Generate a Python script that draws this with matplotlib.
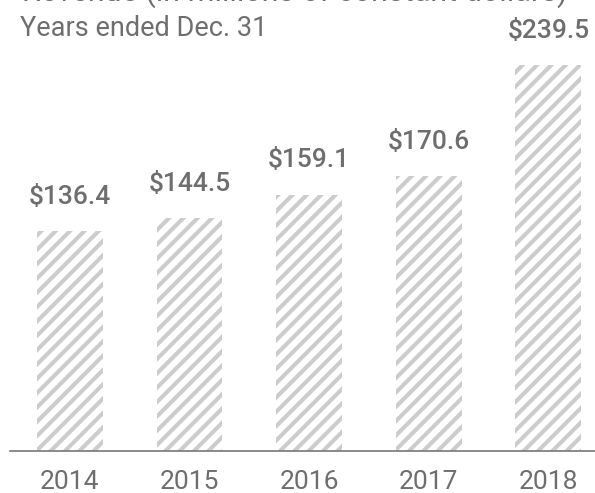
import matplotlib.pyplot as plt
import numpy as np

plt.rcParams['font.family'] = ['Roboto', 'DejaVu Sans']

years = ['2014', '2015', '2016', '2017', '2018']
revenue = [136.4, 144.5, 159.1, 170.6, 239.5]
labels = ['$136.4', '$144.5', '$159.1', '$170.6', '$239.5']

grey = '#6e6e6e'

# dpi 86 so the hatch ('//') repeats every ~14 px
DPI = 86
S = 100 / DPI  # keeps sizes as if at 100 dpi

plt.rcParams['hatch.linewidth'] = 3.4
plt.rcParams['hatch.color'] = '#cccccc'

fig = plt.figure(figsize=(595 / DPI, 493 / DPI), dpi=DPI)
ax = fig.add_axes([10 / 595, 42 / 493, 585 / 595, 451 / 493])

x = np.arange(len(years))
ax.bar(x, revenue, width=0.55, color='white', edgecolor='#cccccc',
       linewidth=0, hatch='//')

for xi, v, lab in zip(x, revenue, labels):
    ax.text(xi, v + 17, lab, ha='center', va='baseline', fontsize=19 * S,
            fontweight='medium', color=grey)

ax.set_xlim(-0.5, 4.39)
ax.set_ylim(0, 451 / 1.612)

for s in ['top', 'right', 'left']:
    ax.spines[s].set_visible(False)
ax.spines['bottom'].set_color('#777777')
ax.spines['bottom'].set_linewidth(1.2 * S)
ax.set_yticks([])
ax.set_xticks(x)
ax.set_xticklabels(years, fontsize=19 * S, color=grey)
ax.tick_params(axis='x', length=0, pad=14 * S)

# title sits mostly above the top edge, as in the reference crop
fig.text(22 / 595, 1 - 0.5 / 493, 'Revenue (in millions of constant dollars)',
         ha='left', va='baseline', fontsize=22 * S, color=grey)
fig.text(20 / 595, 1 - 36 / 493, 'Years ended Dec. 31', ha='left',
         va='baseline', fontsize=19.5 * S, color=grey)

fig.savefig('out.png', dpi=DPI)
